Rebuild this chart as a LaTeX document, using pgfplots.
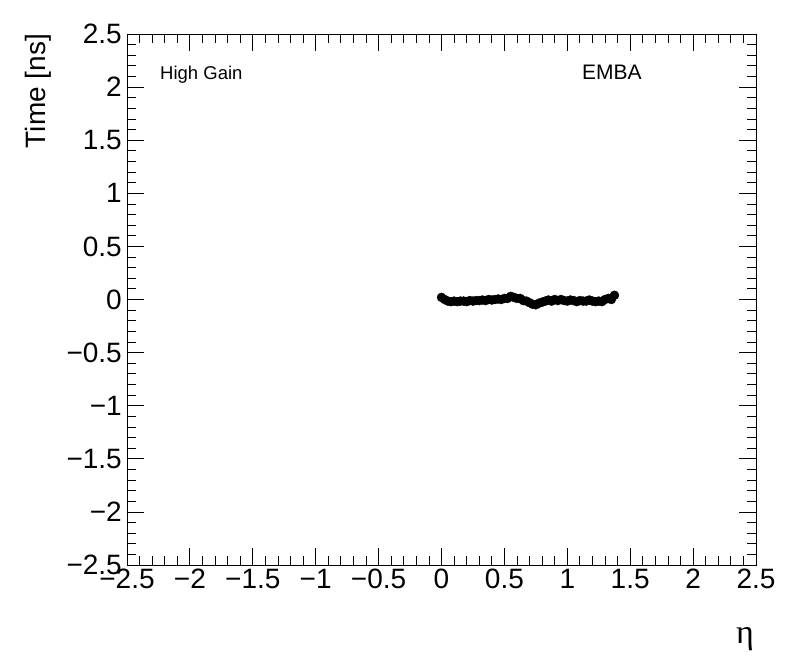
\documentclass[border=0pt]{standalone}
\usepackage{pgfplots}
\pgfplotsset{compat=1.18}
\usepackage{fontspec}
\setmainfont{Liberation Sans}
\newfontfamily\serifgreek{Liberation Serif}
\begin{document}
\begin{tikzpicture}
\useasboundingbox (-127bp,-107bp) rectangle (669bp,565bp);
\begin{axis}[
  at={(0,0)}, anchor=south west,
  scale only axis, width=629bp, height=531bp,
  xmin=-2.5, xmax=2.5, ymin=-2.5, ymax=2.5,
  xtick={-2.5,-2,-1.5,-1,-0.5,0,0.5,1,1.5,2,2.5},
  xticklabels={−2.5,−2,−1.5,−1,−0.5,0,0.5,1,1.5,2,2.5},
  ytick={-2.5,-2,-1.5,-1,-0.5,0,0.5,1,1.5,2,2.5},
  yticklabels={−2.5,−2,−1.5,−1,−0.5,0,0.5,1,1.5,2,2.5},
  minor tick num=4,
  tick align=inside,
  xtick pos=both, ytick pos=both,
  major tick length=17bp, minor tick length=9bp,
  tick style={black, line width=0.8bp},
  axis line style={black, line width=0.8bp},
  ticklabel style={font=\fontsize{28bp}{30bp}\selectfont, inner sep=0bp},
  xticklabel style={yshift=-4bp},
  yticklabel style={xshift=-5bp},
  xlabel={\serifgreek η},
  every axis x label/.style={at={(axis description cs:1,0)}, anchor=north east, inner sep=0bp, yshift=-62bp, xshift=-2bp, font=\fontsize{34bp}{36bp}\selectfont},
  ylabel={Time [ns]},
  every axis y label/.style={at={([xshift=-89bp]axis description cs:0,1)}, rotate=90, anchor=east, inner sep=0bp, font=\fontsize{28bp}{30bp}\selectfont},
]
\addplot[only marks, mark=*, mark size=4.5bp, black] coordinates {
(0.000,0.02) (0.025,0.00) (0.050,-0.015) (0.075,-0.02) (0.100,-0.015)
(0.125,-0.02) (0.150,-0.015) (0.175,-0.015) (0.200,-0.02) (0.225,-0.01)
(0.250,-0.015) (0.275,-0.01) (0.300,-0.01) (0.325,-0.005) (0.350,-0.01)
(0.375,0.0) (0.400,-0.005) (0.425,0.0) (0.450,0.005) (0.475,0.0)
(0.500,0.01) (0.525,0.01) (0.550,0.03) (0.575,0.02) (0.600,0.01)
(0.625,0.01) (0.650,-0.01) (0.675,-0.015) (0.700,-0.03) (0.725,-0.045)
(0.750,-0.05) (0.775,-0.035) (0.800,-0.025) (0.825,-0.015) (0.850,-0.005)
(0.875,-0.015) (0.900,0.0) (0.925,-0.01) (0.950,0.0) (0.975,-0.01)
(1.000,-0.015) (1.025,-0.005) (1.050,-0.01) (1.075,-0.02) (1.100,-0.01)
(1.125,-0.015) (1.150,-0.015) (1.175,-0.005) (1.200,-0.015) (1.225,-0.02)
(1.250,-0.015) (1.275,-0.02) (1.300,0.00) (1.325,0.01) (1.350,0.0)
(1.375,0.04)
};
\node[anchor=base west, inner sep=0bp, font=\fontsize{18.5bp}{20bp}\selectfont] at ([xshift=33bp,yshift=-46bp]rel axis cs:0,1) {High Gain};
\node[anchor=base west, inner sep=0bp, font=\fontsize{21bp}{23bp}\selectfont] at ([xshift=455bp,yshift=-46bp]rel axis cs:0,1) {EMBA};
\end{axis}
\end{tikzpicture}
\end{document}
